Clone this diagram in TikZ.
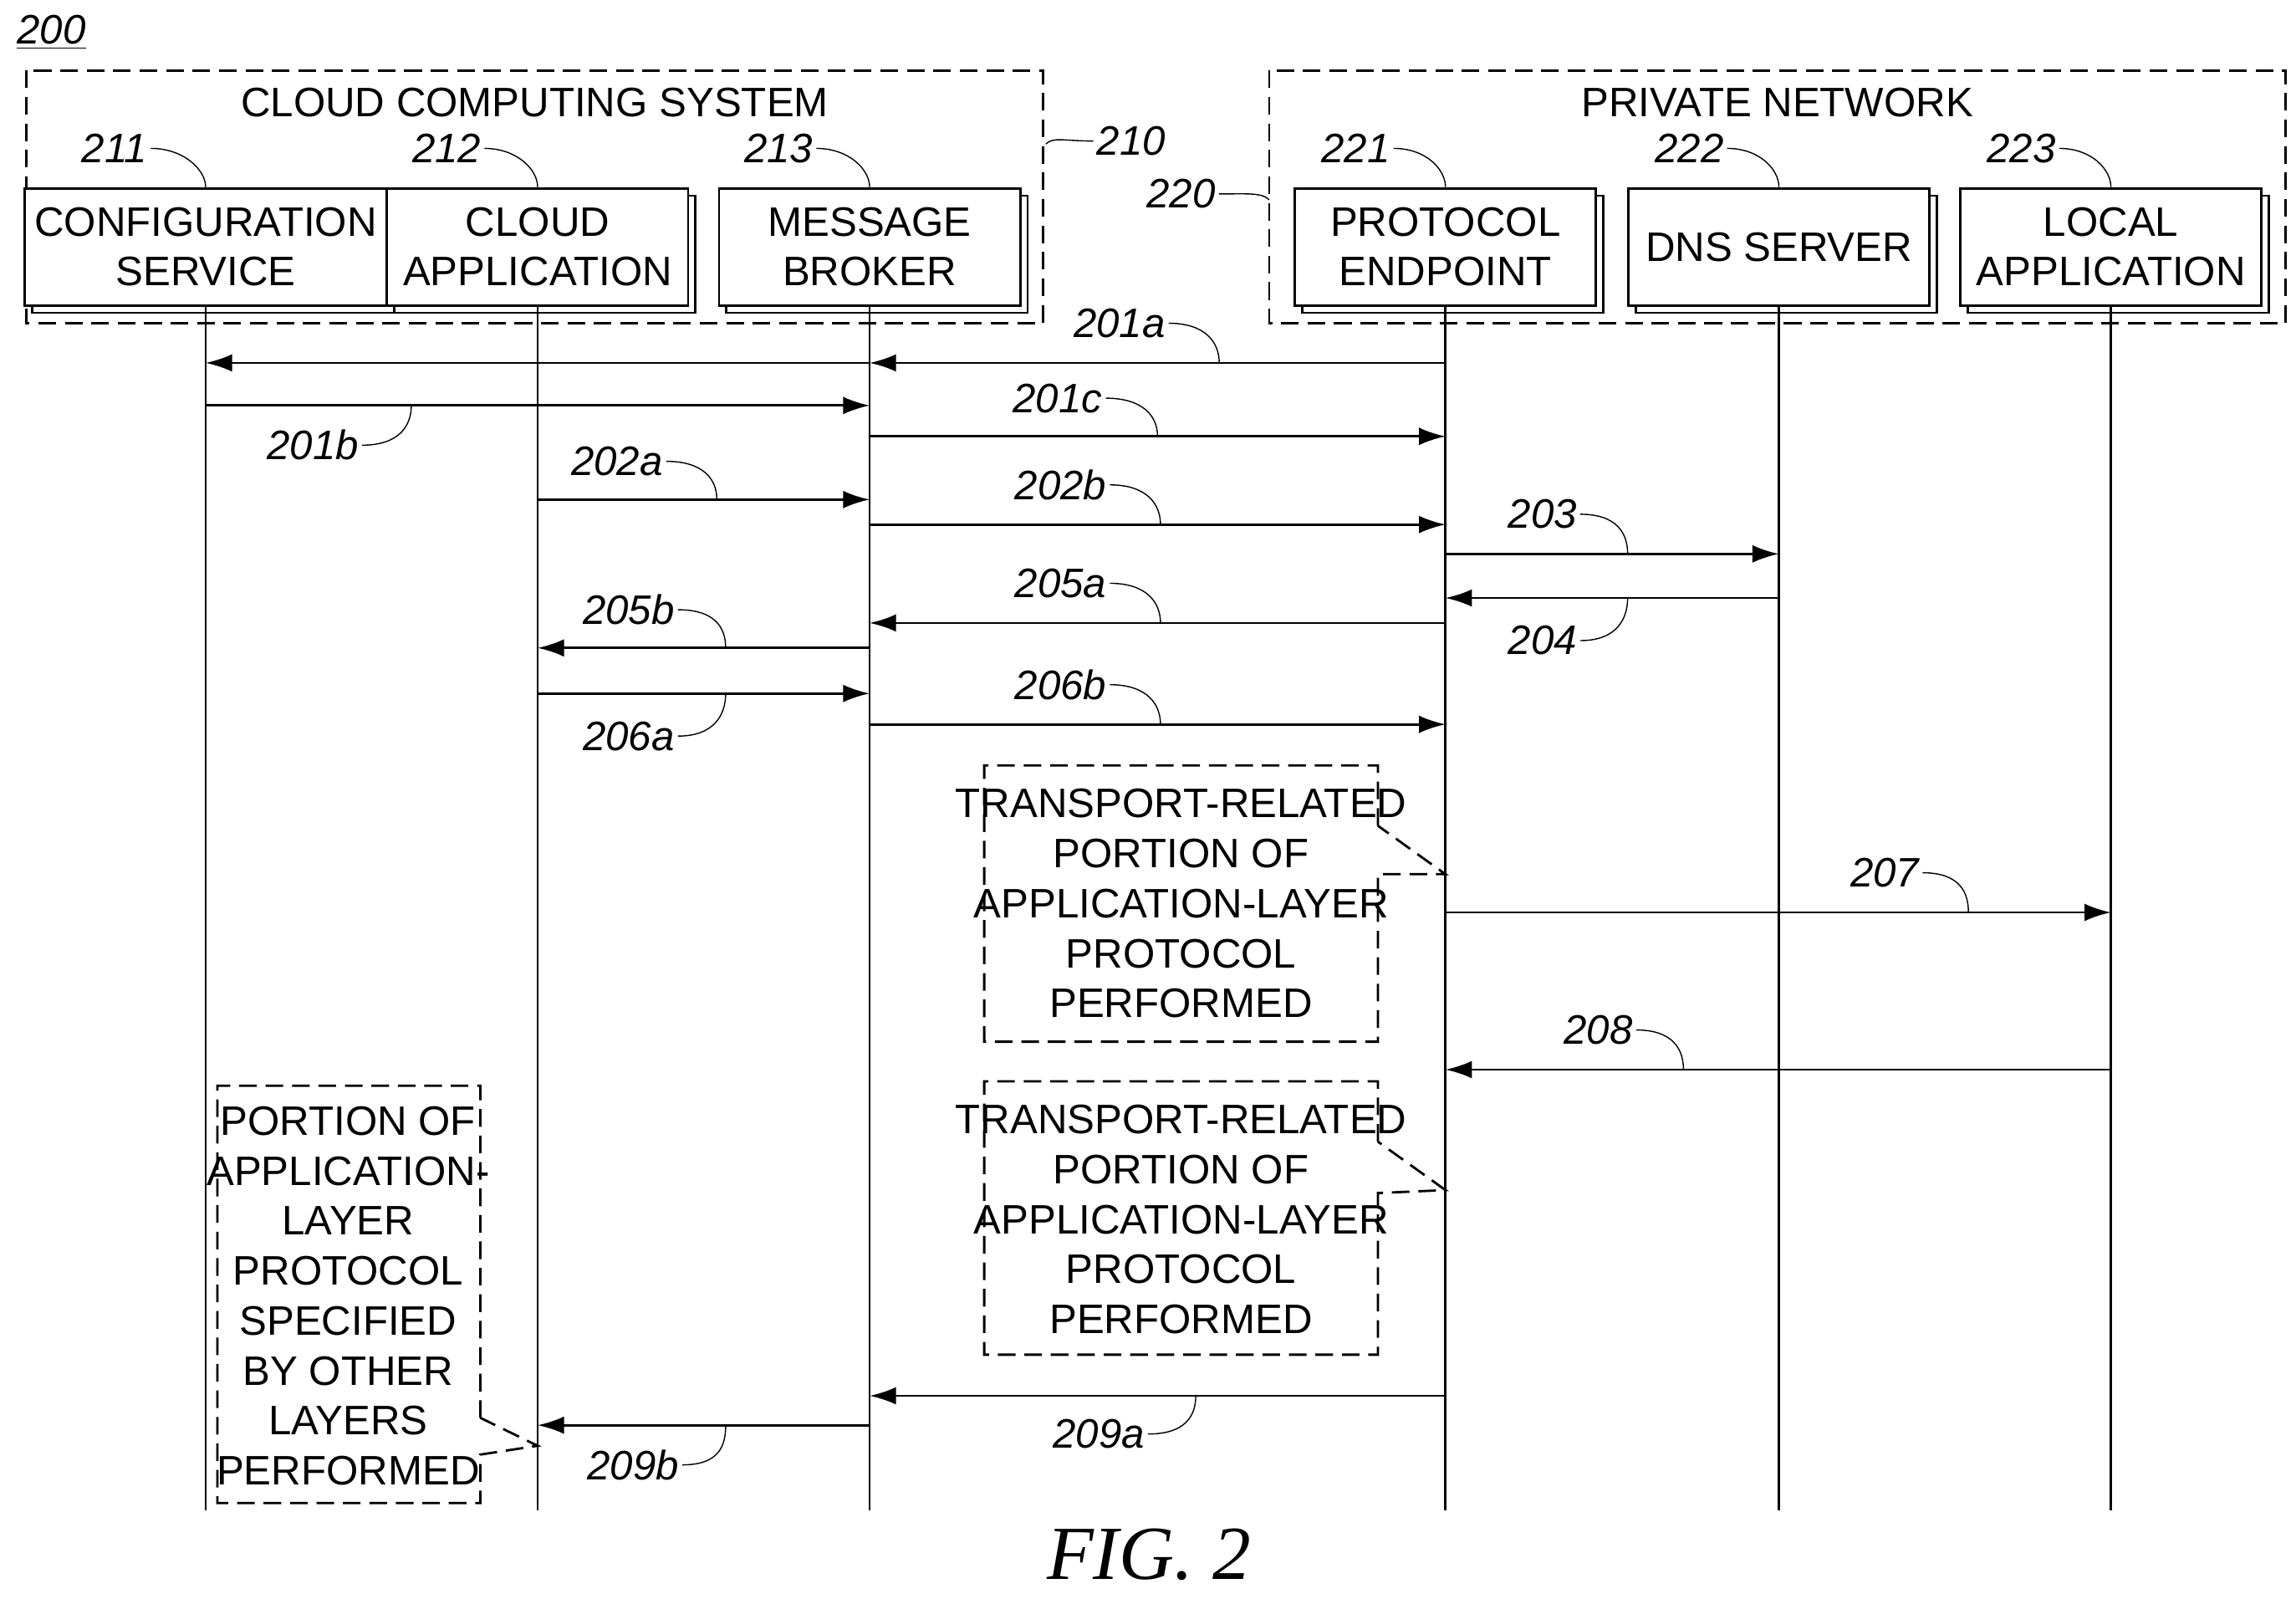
\documentclass[tikz,border=0pt]{standalone}
\usepackage{fontspec}
\setmainfont{Liberation Sans}
\newfontfamily\figfont{Liberation Serif}
\usetikzlibrary{arrows.meta,positioning,shadows,calc}

\begin{document}
\begin{tikzpicture}[
    x=0.01757cm, y=-0.01757cm,
    every node/.style={font=\fontsize{14}{17}\selectfont},
    entity/.style={rectangle, draw, thick, fill=white, minimum width=3.6cm, minimum height=1.4cm, align=center,
        copy shadow={shadow xshift=2.5pt, shadow yshift=-2.5pt}},
    group/.style={draw, thick, dash pattern=on 6pt off 3pt},
    note/.style={align=center, inner sep=0pt},
    lifeline/.style={thick},
    msg/.style={-{Latex[length=9pt,width=6pt]}, thick},
    ref/.style={font=\fontsize{14}{17}\selectfont\itshape, inner sep=1pt},
    leader/.style={thin}
]
\useasboundingbox (0,0) rectangle (1563,1088);

% Groups
\draw[group] (18,48) rectangle (710,220);
\draw[group] (864,48) rectangle (1556,220);
\node (cloudtitle) at (364,70) {CLOUD COMPUTING SYSTEM};
\node (privtitle) at (1210,70) {PRIVATE NETWORK};

% Entities
\node[entity] (cfg) at (140,168) {CONFIGURATION\\SERVICE};
\node[entity] (app) at (366,168) {CLOUD\\APPLICATION};
\node[entity] (brk) at (592,168) {MESSAGE\\BROKER};
\node[entity] (pep) at (984,168) {PROTOCOL\\ENDPOINT};
\node[entity] (dns) at (1211,168) {DNS SERVER};
\node[entity] (loc) at (1437,168) {LOCAL\\APPLICATION};

% Lifelines
\foreach \e in {cfg,app,brk,pep,dns,loc} {
    \coordinate (\e end) at (\e.south |- 0,1028);
    \draw[lifeline] (\e.south) -- (\e end);
}

% Reference numerals
\node[ref] (r200) at (35,22) {\underline{200}};
\node[ref] (r210) at (770,96) {210};
\node[ref] (r220) at (804,132) {220};
\node[ref] (r211) at (78,101) {211};
\node[ref] (r212) at (304,101) {212};
\node[ref] (r213) at (530,101) {213};
\node[ref] (r221) at (923,101) {221};
\node[ref] (r222) at (1150,101) {222};
\node[ref] (r223) at (1376,101) {223};
\draw[leader] (r210.west) .. controls +(-20,0) and +(5,-5) .. (712,98);
\draw[leader] (r220.east) .. controls +(20,0) and +(-5,-5) .. (864,136);
\foreach \r/\e in {r211/cfg,r212/app,r213/brk,r221/pep,r222/dns,r223/loc}
    \draw[leader] (\r.east) .. controls +(22,0) and +(0,-12) .. ($(\e.north)+(0,0)$);

% Messages
\draw[msg] (pep.south |- 0,247) -- (brk.south |- 0,247);
\draw[msg] (brk.south |- 0,247) -- (cfg.south |- 0,247);
\draw[msg] (cfg.south |- 0,276) -- (brk.south |- 0,276);
\draw[msg] (brk.south |- 0,297) -- (pep.south |- 0,297);
\draw[msg] (app.south |- 0,340) -- (brk.south |- 0,340);
\draw[msg] (brk.south |- 0,357) -- (pep.south |- 0,357);
\draw[msg] (pep.south |- 0,377) -- (dns.south |- 0,377);
\draw[msg] (dns.south |- 0,407) -- (pep.south |- 0,407);
\draw[msg] (pep.south |- 0,424) -- (brk.south |- 0,424);
\draw[msg] (brk.south |- 0,441) -- (app.south |- 0,441);
\draw[msg] (app.south |- 0,472) -- (brk.south |- 0,472);
\draw[msg] (brk.south |- 0,493) -- (pep.south |- 0,493);
\draw[msg] (pep.south |- 0,621) -- (loc.south |- 0,621);
\draw[msg] (loc.south |- 0,728) -- (pep.south |- 0,728);
\draw[msg] (pep.south |- 0,950) -- (brk.south |- 0,950);
\draw[msg] (brk.south |- 0,970) -- (app.south |- 0,970);

% Message labels (above: curl down to the arrow; below: curl up)
\foreach \n/\x/\y/\tx/\ty in {201a/762/220/830/247, 201c/720/271/788/297, 202a/420/314/488/340,
        202b/722/330/790/357, 203/1050/350/1108/377, 205a/722/397/790/424, 205b/428/415/494/441,
        206b/722/466/790/493, 207/1283/594/1340/621, 208/1088/701/1146/728} {
    \node[ref] (l\n) at (\x,\y) {\n};
    \draw[leader] (l\n.east) .. controls +(25,0) and +(0,-14) .. (\tx,\ty);
}
\foreach \n/\x/\y/\tx/\ty in {201b/213/303/280/276, 204/1050/436/1108/407, 206a/428/501/494/472,
        209a/748/976/814/950, 209b/431/997/494/970} {
    \node[ref] (l\n) at (\x,\y) {\n};
    \draw[leader] (l\n.east) .. controls +(25,0) and +(0,14) .. (\tx,\ty);
}

% Notes with callouts
\node[note] (note1) at (804,615) {TRANSPORT-RELATED\\PORTION OF\\APPLICATION-LAYER\\PROTOCOL\\PERFORMED};
\draw[group] (938,562) -- (938,521) -- (670,521) -- (670,709) -- (938,709) -- (938,595) -- (pep.south |- 0,595) -- cycle;
\node[note] (note2) at (804,830) {TRANSPORT-RELATED\\PORTION OF\\APPLICATION-LAYER\\PROTOCOL\\PERFORMED};
\draw[group] (938,777) -- (938,736) -- (670,736) -- (670,922) -- (938,922) -- (938,812) -- (pep.south |- 0,810) -- cycle;
\node[note] (note3) at (237,882) {PORTION OF\\APPLICATION-\\LAYER\\PROTOCOL\\SPECIFIED\\BY OTHER\\LAYERS\\PERFORMED};
\draw[group] (327,965) -- (327,739) -- (148,739) -- (148,1023) -- (327,1023) -- (327,990) -- (app.south |- 0,984) -- cycle;

% Figure caption
\node[font=\figfont\fontsize{26}{30}\selectfont\itshape] (caption) at (782,1058) {FIG. 2};
\end{tikzpicture}
\end{document}
